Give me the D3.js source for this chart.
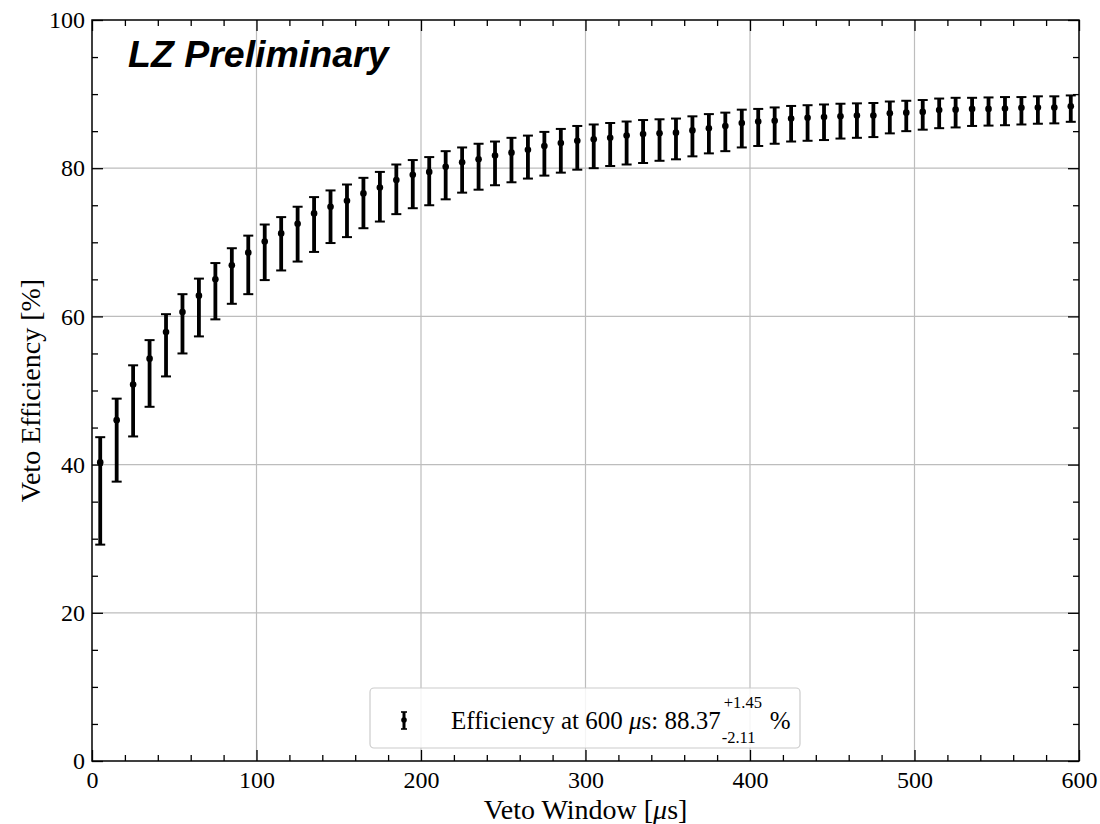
<!DOCTYPE html>
<html>
<head>
<meta charset="utf-8">
<script src="https://cdn.jsdelivr.net/npm/d3@7"></script>
<style>
  html, body { margin: 0; padding: 0; background: #ffffff; }
  svg { display: block; }
</style>
</head>
<body>
<svg id="chart" width="1100" height="824"></svg>
<script>
// ---- data ----
const vetoWindow = [5, 15, 25, 35, 45, 55, 65, 75, 85, 95,
  105, 115, 125, 135, 145, 155, 165, 175, 185, 195,
  205, 215, 225, 235, 245, 255, 265, 275, 285, 295,
  305, 315, 325, 335, 345, 355, 365, 375, 385, 395,
  405, 415, 425, 435, 445, 455, 465, 475, 485, 495,
  505, 515, 525, 535, 545, 555, 565, 575, 585, 595];
const efficiency = [40.3, 46.0, 50.8, 54.3, 57.9, 60.6, 62.8, 65.0, 66.9, 68.6,
  70.1, 71.2, 72.5, 73.9, 74.8, 75.6, 76.6, 77.4, 78.4, 79.1,
  79.5, 80.2, 80.8, 81.2, 81.7, 82.1, 82.5, 83.0, 83.4, 83.7,
  83.9, 84.1, 84.4, 84.6, 84.7, 84.8, 85.1, 85.4, 85.7, 86.1,
  86.3, 86.4, 86.7, 86.8, 86.9, 87.0, 87.1, 87.1, 87.4, 87.5,
  87.6, 87.85, 87.9, 88.0, 88.0, 88.05, 88.15, 88.2, 88.2, 88.37];
const upper = [43.7, 48.9, 53.4, 56.8, 60.3, 63.0, 65.1, 67.2, 69.2, 70.9,
  72.4, 73.4, 74.8, 76.1, 77.0, 77.8, 78.7, 79.5, 80.5, 81.1,
  81.5, 82.3, 82.8, 83.3, 83.6, 84.1, 84.4, 84.9, 85.3, 85.7,
  85.9, 86.1, 86.3, 86.5, 86.6, 86.7, 87.0, 87.3, 87.5, 87.9,
  88.0, 88.2, 88.4, 88.5, 88.6, 88.7, 88.75, 88.8, 89.0, 89.1,
  89.2, 89.4, 89.5, 89.5, 89.55, 89.6, 89.6, 89.7, 89.7, 89.82];
const lower = [29.2, 37.7, 43.8, 47.8, 51.9, 55.0, 57.3, 59.6, 61.7, 63.0,
  64.9, 66.2, 67.4, 68.7, 69.9, 70.7, 71.9, 72.8, 73.8, 74.6,
  75.0, 75.8, 76.7, 77.1, 77.7, 78.1, 78.6, 79.0, 79.4, 79.8,
  80.0, 80.3, 80.5, 80.7, 81.0, 81.2, 81.6, 82.0, 82.3, 82.8,
  83.0, 83.3, 83.6, 83.7, 83.8, 84.0, 84.1, 84.2, 84.7, 85.0,
  85.2, 85.4, 85.5, 85.7, 85.75, 85.8, 85.9, 86.0, 86.05, 86.26];
const xMajorTicks = [0, 100, 200, 300, 400, 500, 600];
const yMajorTicks = [0, 20, 40, 60, 80, 100];
const xMinorTicks = [20, 40, 60, 80, 120, 140, 160, 180, 220, 240, 260, 280, 320, 340, 360, 380, 420, 440, 460, 480, 520, 540, 560, 580];
const yMinorTicks = [5, 10, 15, 25, 30, 35, 45, 50, 55, 65, 70, 75, 85, 90, 95];
const legendLabel = "Efficiency at 600 ";
const legendValue = "88.37";
const legendPlus = "+1.45";
const legendMinus = "-2.11";

const rows = vetoWindow.map((x, i) => ({x, y: efficiency[i], hi: upper[i], lo: lower[i]}));

// ---- layout ----
const W = 1100, H = 824;
const margin = {left: 92, right: 21, top: 20, bottom: 63};
const iw = W - margin.left - margin.right;
const ih = H - margin.top - margin.bottom;
const serif = "'Liberation Serif', 'Times New Roman', Times, serif";

const svg = d3.select("#chart");
const g = svg.append("g").attr("transform", `translate(${margin.left},${margin.top})`);

const x = d3.scaleLinear().domain([0, 600]).range([0, iw]);
const y = d3.scaleLinear().domain([0, 100]).range([ih, 0]);

// grid
g.append("g").selectAll("line").data(xMajorTicks.slice(1, -1)).join("line")
  .attr("x1", d => x(d)).attr("x2", d => x(d)).attr("y1", 0).attr("y2", ih)
  .attr("stroke", "#bdbdbd").attr("stroke-width", 1.2);
g.append("g").selectAll("line").data(yMajorTicks.slice(1, -1)).join("line")
  .attr("y1", d => y(d)).attr("y2", d => y(d)).attr("x1", 0).attr("x2", iw)
  .attr("stroke", "#bdbdbd").attr("stroke-width", 1.2);

// axes
function styleAxis(sel) {
  sel.select(".domain").remove();
  sel.selectAll(".tick line").attr("stroke", "#000").attr("stroke-width", 1.3);
  sel.selectAll(".tick text").attr("font-family", serif).attr("font-size", 24).attr("fill", "#000");
}
g.append("g").attr("transform", `translate(0,${ih})`)
  .call(d3.axisBottom(x).tickValues(xMajorTicks).tickSize(-11).tickPadding(10).tickFormat(d3.format("d")))
  .call(styleAxis);
g.append("g").attr("transform", `translate(0,${ih})`)
  .call(d3.axisBottom(x).tickValues(xMinorTicks).tickSize(-6).tickFormat(""))
  .call(styleAxis);
g.append("g")
  .call(d3.axisTop(x).tickValues(xMajorTicks).tickSize(-11).tickFormat(""))
  .call(styleAxis);
g.append("g")
  .call(d3.axisTop(x).tickValues(xMinorTicks).tickSize(-6).tickFormat(""))
  .call(styleAxis);
g.append("g")
  .call(d3.axisLeft(y).tickValues(yMajorTicks).tickSize(-11).tickPadding(7).tickFormat(d3.format("d")))
  .call(styleAxis);
g.append("g")
  .call(d3.axisLeft(y).tickValues(yMinorTicks).tickSize(-6).tickFormat(""))
  .call(styleAxis);
g.append("g").attr("transform", `translate(${iw},0)`)
  .call(d3.axisRight(y).tickValues(yMajorTicks).tickSize(-11).tickFormat(""))
  .call(styleAxis);
g.append("g").attr("transform", `translate(${iw},0)`)
  .call(d3.axisRight(y).tickValues(yMinorTicks).tickSize(-6).tickFormat(""))
  .call(styleAxis);

// frame
g.append("rect").attr("x", 0).attr("y", 0).attr("width", iw).attr("height", ih)
  .attr("fill", "none").attr("stroke", "#000").attr("stroke-width", 1.5);

// error bars
const eb = g.append("g").selectAll("g").data(rows).join("g");
eb.append("line").attr("x1", d => x(d.x)).attr("x2", d => x(d.x))
  .attr("y1", d => y(d.hi)).attr("y2", d => y(d.lo))
  .attr("stroke", "#000").attr("stroke-width", 3.8);
eb.append("line").attr("x1", d => x(d.x) - 5).attr("x2", d => x(d.x) + 5)
  .attr("y1", d => y(d.hi)).attr("y2", d => y(d.hi))
  .attr("stroke", "#000").attr("stroke-width", 2);
eb.append("line").attr("x1", d => x(d.x) - 5).attr("x2", d => x(d.x) + 5)
  .attr("y1", d => y(d.lo)).attr("y2", d => y(d.lo))
  .attr("stroke", "#000").attr("stroke-width", 2);
eb.append("circle").attr("cx", d => x(d.x)).attr("cy", d => y(d.y)).attr("r", 3.3).attr("fill", "#000");

// LZ Preliminary
svg.append("text").attr("x", 128).attr("y", 67)
  .attr("font-family", "'Liberation Sans', Arial, Helvetica, sans-serif")
  .attr("font-weight", "bold").attr("font-style", "italic").attr("font-size", 37.5)
  .attr("fill", "#000").text("LZ Preliminary");

// axis labels
const xl = svg.append("text").attr("x", margin.left + iw / 2).attr("y", 819)
  .attr("text-anchor", "middle").attr("font-family", serif).attr("font-size", 28).attr("fill", "#000");
xl.append("tspan").text("Veto Window [");
xl.append("tspan").attr("font-style", "italic").text("\u03bc");
xl.append("tspan").text("s]");

svg.append("text").attr("transform", `translate(40,${margin.top + ih / 2}) rotate(-90)`)
  .attr("text-anchor", "middle").attr("font-family", serif).attr("font-size", 28).attr("fill", "#000")
  .text("Veto Efficiency [%]");

// legend
const lg = svg.append("g");
lg.append("rect").attr("x", 370).attr("y", 688).attr("width", 430).attr("height", 60).attr("rx", 4)
  .attr("fill", "#fff").attr("fill-opacity", 0.85).attr("stroke", "#cccccc").attr("stroke-width", 1.2);
const hx = 404, hy = 720;
lg.append("line").attr("x1", hx).attr("x2", hx).attr("y1", hy - 8).attr("y2", hy + 9).attr("stroke", "#000").attr("stroke-width", 3);
lg.append("line").attr("x1", hx - 3).attr("x2", hx + 3).attr("y1", hy - 8).attr("y2", hy - 8).attr("stroke", "#000").attr("stroke-width", 1.6);
lg.append("line").attr("x1", hx - 3).attr("x2", hx + 3).attr("y1", hy + 9).attr("y2", hy + 9).attr("stroke", "#000").attr("stroke-width", 1.6);
lg.append("circle").attr("cx", hx).attr("cy", hy).attr("r", 2.8).attr("fill", "#000");

const lt = lg.append("text").attr("x", 451).attr("y", 729).attr("font-family", serif).attr("font-size", 25).attr("fill", "#000");
lt.append("tspan").text(legendLabel);
lt.append("tspan").attr("font-style", "italic").text("\u03bc");
lt.append("tspan").text("s: " + legendValue);
const endX = 451 + lt.node().getComputedTextLength();
lg.append("text").attr("x", endX + 3).attr("y", 708).attr("font-family", serif).attr("font-size", 16.5).attr("fill", "#000").text(legendPlus);
lg.append("text").attr("x", endX + 1).attr("y", 743).attr("font-family", serif).attr("font-size", 16.5).attr("fill", "#000").text(legendMinus);
lg.append("text").attr("x", endX + 49).attr("y", 729).attr("font-family", serif).attr("font-size", 25).attr("fill", "#000").text("%");
</script>
</body>
</html>
